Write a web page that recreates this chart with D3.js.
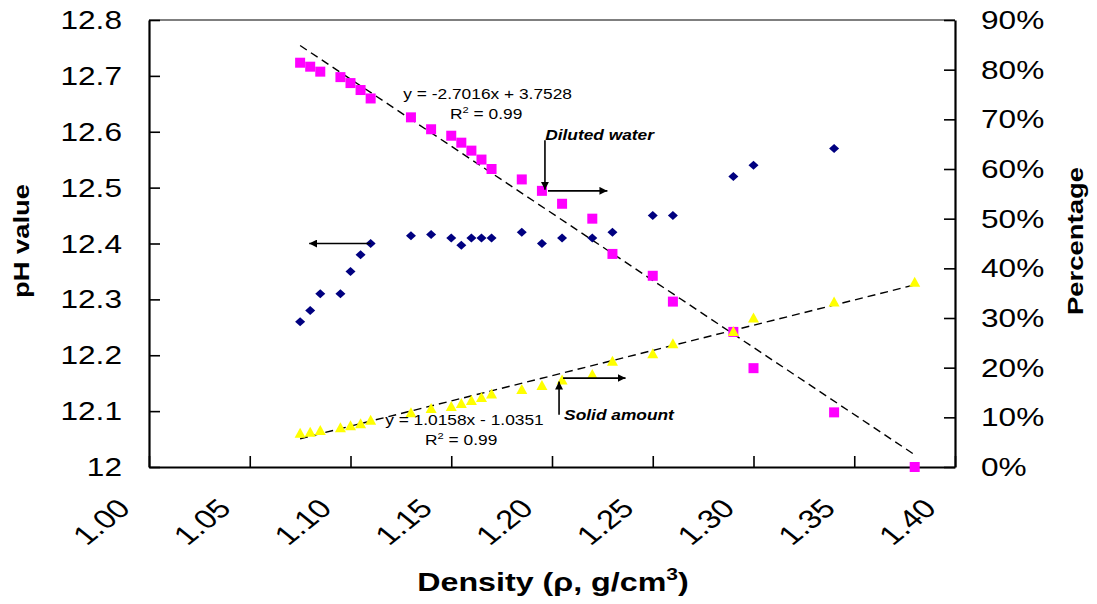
<!DOCTYPE html>
<html>
<head>
<meta charset="utf-8">
<script src="https://cdn.jsdelivr.net/npm/d3@7"></script>
<style>
  body { margin: 0; background: #fff; }
  svg { display: block; font-family: Arial, 'Liberation Sans', sans-serif; }
</style>
</head>
<body>
<div id="root"></div>
<script>
// -------- data --------
const density = [1.075, 1.08, 1.085, 1.095, 1.10, 1.105, 1.11, 1.13, 1.14, 1.15, 1.155, 1.16, 1.165,
  1.17, 1.185, 1.195, 1.205, 1.22, 1.23, 1.25, 1.26, 1.29, 1.30, 1.34, 1.38]
// pH (left axis), no reading at the last density
const phValue = [12.26, 12.28, 12.31, 12.31, 12.35, 12.38, 12.40, 12.414, 12.416, 12.41, 12.397, 12.41,
  12.41, 12.41, 12.42, 12.40, 12.41, 12.41, 12.42, 12.45, 12.45, 12.52, 12.54, 12.57]
// percentages (right axis)
const dilutedWater = [81.4, 80.6, 79.6, 78.5, 77.3, 75.9, 74.2, 70.4, 68.0, 66.7, 65.3, 63.7, 61.9,
  60.0, 57.9, 55.6, 53.0, 50.0, 42.9, 38.5, 33.3, 27.2, 19.9, 11.0, 0]
const solidAmount = [6.9, 7.1, 7.45, 8.0, 8.4, 8.8, 9.5, 11.0, 11.9, 12.3, 12.9, 13.5, 14.1,
  14.8, 15.7, 16.5, 17.6, 18.7, 21.4, 22.9, 24.9, 27.4, 30.1, 33.3, 37.3]

// trendlines as printed on the chart (y as a fraction)
const dilutedFit = [-2.7016, 3.7528]
const solidFit = [1.0158, -1.0351]
const fitRange = [1.075, 1.38]

const xTicks = [1.00, 1.05, 1.10, 1.15, 1.20, 1.25, 1.30, 1.35, 1.40]
const phTicks = [12, 12.1, 12.2, 12.3, 12.4, 12.5, 12.6, 12.7, 12.8]
const pctTicks = [0, 10, 20, 30, 40, 50, 60, 70, 80, 90]

// -------- drawing --------
const W = 1097, H = 604
const SX = 1.24 // the picture is stretched sideways, so is its text

const svg = d3.select('#root').append('svg')
  .attr('width', W)
  .attr('height', H)

const plotL = 149, plotR = 955, plotT = 20, plotB = 467

const x = d3.scaleLinear().domain([1.0, 1.4]).range([plotL, plotR])
const yL = d3.scaleLinear().domain([12, 12.8]).range([plotB, plotT])
const yR = d3.scaleLinear().domain([0, 90]).range([plotB, plotT])

function label(px, py, size, opts = {}) {
  const g = svg.append('g')
    .attr('transform', `translate(${px},${py}) scale(${SX},1)` + (opts.rotate ? ` rotate(${opts.rotate})` : ''))
  return g.append('text')
    .attr('font-size', size)
    .attr('font-weight', opts.bold ? 'bold' : null)
    .attr('font-style', opts.italic ? 'italic' : null)
    .attr('text-anchor', opts.anchor || 'start')
    .attr('fill', '#000')
}

// top border of the plot area
svg.append('line')
  .attr('x1', plotL).attr('x2', plotR)
  .attr('y1', plotT).attr('y2', plotT)
  .attr('stroke', '#555').attr('stroke-width', 1.5)

// axes: ticks only, labels drawn separately
const axisL = svg.append('g').attr('transform', `translate(${plotL},0)`)
  .call(d3.axisLeft(yL).tickValues(phTicks).tickSizeInner(-11).tickSizeOuter(0).tickFormat(''))
const axisR = svg.append('g').attr('transform', `translate(${plotR},0)`)
  .call(d3.axisRight(yR).tickValues(pctTicks).tickSizeInner(-11).tickSizeOuter(0).tickFormat(''))
const axisB = svg.append('g').attr('transform', `translate(0,${plotB})`)
  .call(d3.axisBottom(x).tickValues(xTicks).tickSizeInner(-11).tickSizeOuter(0).tickFormat(''))

;[axisL, axisR, axisB].forEach(a => {
  a.select('.domain').attr('stroke', '#000').attr('stroke-width', 2.2)
  a.selectAll('.tick line').attr('stroke', '#000').attr('stroke-width', 1.6)
})

// tick labels
phTicks.forEach(v => {
  label(122, yL(v) + 9, 25.5, { anchor: 'end' }).text(d3.format('~g')(v))
})
pctTicks.forEach(v => {
  label(981, yR(v) + 9, 25.5).text(v + '%')
})
xTicks.forEach(v => {
  label(x(v) - 17, plotB + 43, 26.5, { anchor: 'end', rotate: -45 }).text(d3.format('.2f')(v))
})

// axis titles
svg.append('text')
  .attr('transform', `translate(28.5,241) rotate(-90)`)
  .attr('text-anchor', 'middle')
  .attr('font-size', 22).attr('font-weight', 'bold')
  .attr('textLength', 114).attr('lengthAdjust', 'spacingAndGlyphs')
  .text('pH value')

svg.append('text')
  .attr('transform', `translate(1082.5,241) rotate(-90)`)
  .attr('text-anchor', 'middle')
  .attr('font-size', 22).attr('font-weight', 'bold')
  .attr('textLength', 148).attr('lengthAdjust', 'spacingAndGlyphs')
  .text('Percentage')

const xt = label(553, 591, 26, { bold: true, anchor: 'middle' })
xt.append('tspan').text('Density (ρ, g/cm')
xt.append('tspan').attr('font-size', 17).attr('dy', -11).text('3')
xt.append('tspan').attr('dy', 11).text(')')

// trendlines
const line = d3.line().x(d => x(d[0])).y(d => yR(d[1]))
;[dilutedFit, solidFit].forEach(f => {
  svg.append('path')
    .datum(fitRange.map(d => [d, (f[0] * d + f[1]) * 100]))
    .attr('d', line)
    .attr('fill', 'none')
    .attr('stroke', '#000')
    .attr('stroke-width', 1.4)
    .attr('stroke-dasharray', '8,5')
})

// markers
svg.append('g').selectAll('path')
  .data(phValue.map((v, i) => [density[i], v]))
  .join('path')
  .attr('transform', d => `translate(${x(d[0])},${yL(d[1])})`)
  .attr('d', 'M0,-4.5L5,0L0,4.5L-5,0Z')
  .attr('fill', '#000080')

svg.append('g').selectAll('rect')
  .data(dilutedWater.map((v, i) => [density[i], v]))
  .join('rect')
  .attr('x', d => x(d[0]) - 5)
  .attr('y', d => yR(d[1]) - 5)
  .attr('width', 10).attr('height', 10)
  .attr('fill', '#ff00ff')

svg.append('g').selectAll('path')
  .data(solidAmount.map((v, i) => [density[i], v]))
  .join('path')
  .attr('transform', d => `translate(${x(d[0])},${yR(d[1])})`)
  .attr('d', 'M0,-5L5.5,5L-5.5,5Z')
  .attr('fill', '#ffff00')

// annotations
svg.append('defs').append('marker')
  .attr('id', 'head')
  .attr('viewBox', '0 0 10 10')
  .attr('refX', 10).attr('refY', 5)
  .attr('markerWidth', 5).attr('markerHeight', 5)
  .attr('markerUnits', 'strokeWidth')
  .attr('orient', 'auto')
  .append('path').attr('d', 'M0,0L10,5L0,10Z').attr('fill', '#000')

const arrows = [
  // [x1, y1, x2, y2, axis]
  [1.11, 12.40, 1.0795, 12.40, 'L'],
  [1.1965, 65.8, 1.1965, 55.8, 'R'],
  [1.198, 55.6, 1.2275, 55.6, 'R'],
  [1.2035, 10.5, 1.2035, 17.2, 'R'],
  [1.2055, 17.9, 1.2365, 17.9, 'R']
]
arrows.forEach(a => {
  const y = a[4] === 'L' ? yL : yR
  svg.append('line')
    .attr('x1', x(a[0])).attr('y1', y(a[1]))
    .attr('x2', x(a[2])).attr('y2', y(a[3]))
    .attr('stroke', '#000').attr('stroke-width', 1.6)
    .attr('marker-end', 'url(#head)')
})

label(x(1.1262), yR(74.1), 14).text('y = -2.7016x + 3.7528')
const r1 = label(x(1.1494), yR(70.1), 14)
r1.append('tspan').text('R')
r1.append('tspan').attr('font-size', 9).attr('dy', -6).text('2')
r1.append('tspan').attr('dy', 6).text(' = 0.99')
label(x(1.1966), yR(65.8), 14, { bold: true, italic: true }).text('Diluted water')

label(x(1.1172), yR(8.5), 14).text('y = 1.0158x - 1.0351')
const r2 = label(x(1.1370), yR(4.4), 14)
r2.append('tspan').text('R')
r2.append('tspan').attr('font-size', 9).attr('dy', -6).text('2')
r2.append('tspan').attr('dy', 6).text(' = 0.99')
label(x(1.2060), yR(9.5), 14, { bold: true, italic: true }).text('Solid amount')
</script>
</body>
</html>
